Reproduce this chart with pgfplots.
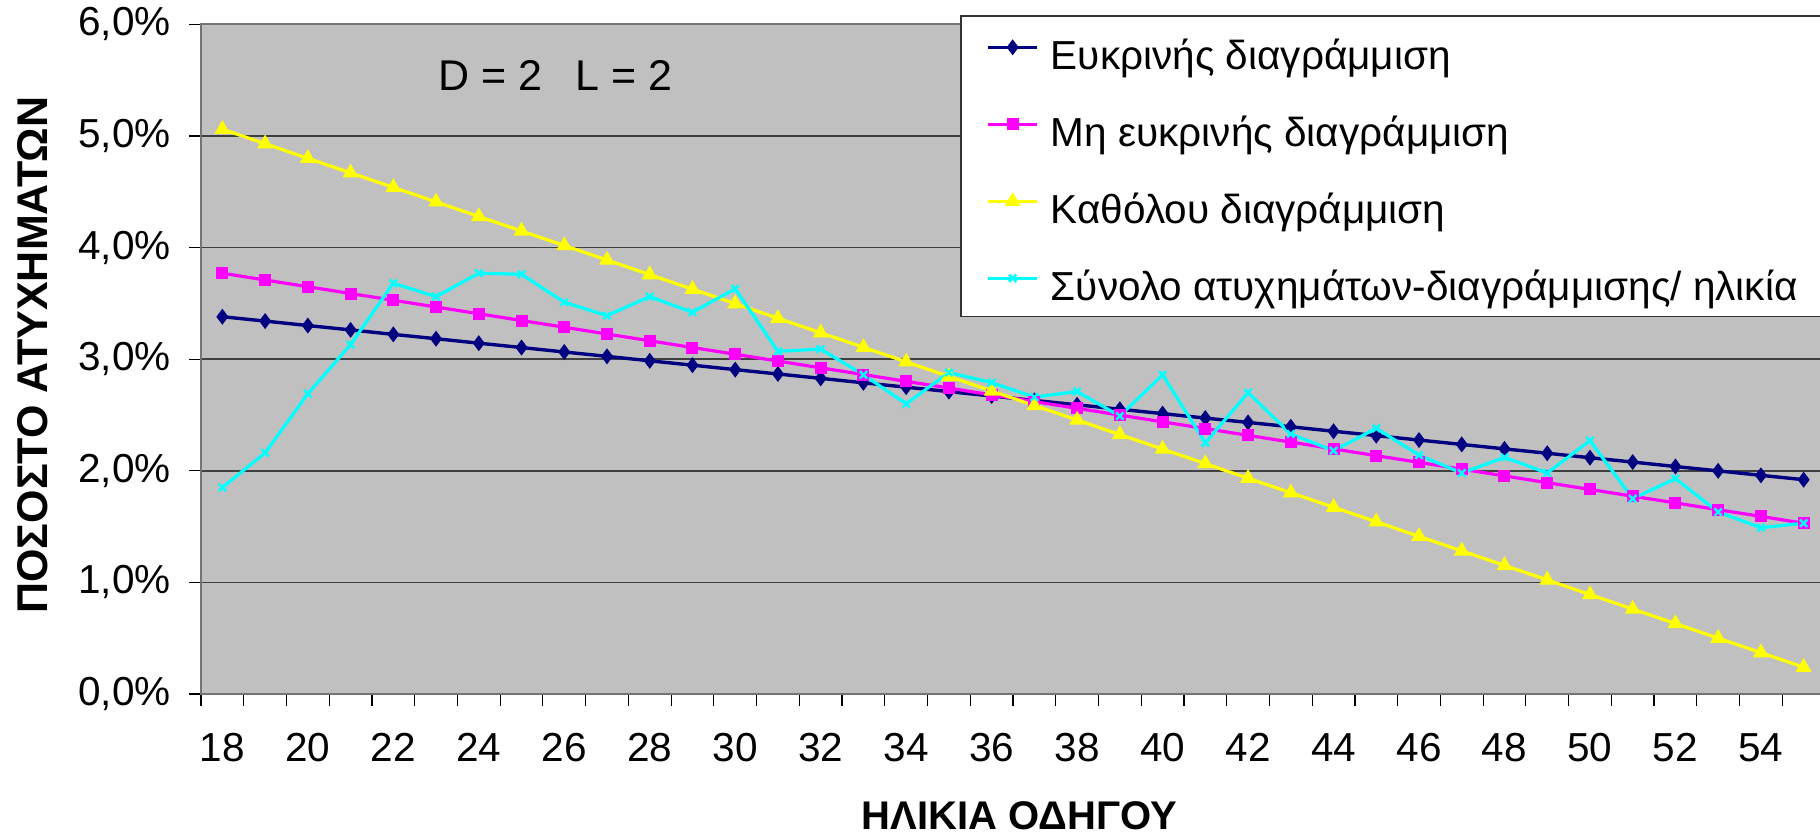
\documentclass[border=0pt]{standalone}
\usepackage{fontspec}
\setmainfont{Liberation Sans}
\usepackage{pgfplots}
\usepackage{pgfplotstable}
\pgfplotsset{compat=1.18}

\definecolor{plotgray}{HTML}{C0C0C0}
\definecolor{navyline}{HTML}{000080}
\definecolor{magline}{HTML}{FF00FF}
\definecolor{yelline}{HTML}{FFFF00}
\definecolor{cyanline}{HTML}{00FFFF}

% age, clear marking, unclear marking, no marking, total accidents (%)
\pgfplotstableread{
age clear unclear none total
18 3.380 3.770 5.060 1.85
19 3.341 3.709 4.930 2.16
20 3.301 3.649 4.799 2.69
21 3.262 3.588 4.669 3.13
22 3.222 3.528 4.539 3.68
23 3.183 3.467 4.409 3.56
24 3.143 3.407 4.278 3.77
25 3.104 3.346 4.148 3.76
26 3.064 3.286 4.018 3.51
27 3.025 3.225 3.888 3.39
28 2.985 3.165 3.757 3.56
29 2.946 3.104 3.627 3.42
30 2.906 3.044 3.497 3.63
31 2.867 2.983 3.366 3.07
32 2.828 2.922 3.236 3.09
33 2.788 2.862 3.106 2.86
34 2.749 2.801 2.976 2.60
35 2.709 2.741 2.845 2.88
36 2.670 2.680 2.715 2.79
37 2.630 2.620 2.585 2.66
38 2.591 2.559 2.455 2.71
39 2.551 2.499 2.324 2.49
40 2.512 2.438 2.194 2.86
41 2.472 2.378 2.064 2.25
42 2.433 2.317 1.933 2.70
43 2.394 2.257 1.803 2.33
44 2.354 2.196 1.673 2.18
45 2.315 2.135 1.543 2.38
46 2.275 2.075 1.412 2.14
47 2.236 2.014 1.282 1.98
48 2.196 1.954 1.152 2.12
49 2.157 1.893 1.022 1.98
50 2.117 1.833 0.891 2.27
51 2.078 1.772 0.761 1.75
52 2.038 1.712 0.631 1.93
53 1.999 1.651 0.500 1.63
54 1.959 1.591 0.370 1.49
55 1.920 1.530 0.240 1.53
}\accdata

\begin{document}
\begin{tikzpicture}
\begin{axis}[
    name=ax, at={(0,0)}, anchor=south west,
    scale only axis, width=812pt, height=334.85pt,
    xmin=17.5, xmax=55.5, ymin=0, ymax=6,
    clip=false,
    axis background/.style={fill=plotgray},
    axis line style={black!55, line width=1pt},
    ymajorgrids, major grid style={black!75, line width=0.8pt},
    ytick={0,...,6},
    yticklabels={{0,0\%},{1,0\%},{2,0\%},{3,0\%},{4,0\%},{5,0\%},{6,0\%}},
    xtick={18,20,...,54},
    xticklabels={18,20,22,24,26,28,30,32,34,36,38,40,42,44,46,48,50,52,54},
    minor xtick={17.5,18.5,...,55.5},
    tick pos=left, tick align=outside,
    major tick length=6pt, minor tick length=6pt,
    tick style={black, line width=0.6pt},
    major x tick style={draw=none},
    /pgf/number format/assume math mode=true,
    ticklabel style={font=\fontsize{20.25}{24}\selectfont},
    xticklabel style={anchor=base, yshift=-28pt},
    yticklabel style={anchor=east, inner sep=0pt, xshift=-9pt},
    xlabel={ΗΛΙΚΙΑ ΟΔΗΓΟΥ}, ylabel={ΠΟΣΟΣΤΟ ΑΤΥΧΗΜΑΤΩΝ},
    xlabel style={font=\bfseries\fontsize{20}{24}\selectfont,
        at={(axis description cs:0.5040,0)}, anchor=base, yshift=-68pt},
    ylabel style={font=\bfseries\fontsize{21.5}{25}\selectfont,
        at={(axis description cs:-0.10376,0.506)}, anchor=center},
    legend cell align=left,
    legend style={at={(rel axis cs:0.468,1.0124)}, anchor=north west,
        draw=none, fill=none, inner xsep=12.5pt, inner ysep=12pt,
        row sep=20pt, column sep=6pt,
        nodes={inner sep=0pt, text height=14.5pt, text depth=4pt,
               font=\fontsize{20.25}{24}\selectfont}},
    legend image code/.code={\draw[mark repeat=2,mark phase=2,#1]
        plot coordinates {(0pt,5.8pt) (12.25pt,5.8pt) (24.5pt,5.8pt)};},
]
\addplot[navyline, line width=1.7pt, mark=diamond*, mark size=2.6pt, mark options={solid}]
    table[x=age, y=clear] {\accdata};
\addlegendentry{Ευκρινής διαγράμμιση}
\addplot[magline, line width=1.6pt, mark=square*, mark size=2.2pt, mark options={solid}]
    table[x=age, y=unclear] {\accdata};
\addlegendentry{Μη ευκρινής διαγράμμιση}
\addplot[yelline, line width=1.6pt, mark=triangle*, mark size=3pt, mark options={solid}]
    table[x=age, y=none] {\accdata};
\addlegendentry{Καθόλου διαγράμμιση}
\addplot[cyanline, line width=1.6pt, mark=x, mark size=2.6pt, mark options={solid, line width=1.2pt}]
    table[x=age, y=total] {\accdata};
\addlegendentry{Σύνολο ατυχημάτων-διαγράμμισης/ ηλικία}

\draw[black!80, line width=0.8pt, fill=white]
    (rel axis cs:0.468,1.0124) rectangle (rel axis cs:1.02,0.5634);
\node[font=\fontsize{21.5}{25}\selectfont] at (axis cs:25.8,5.54) {D = 2 \hspace{0.5em}L = 2};
\end{axis}
\pgfresetboundingbox
\path ([shift={(-100.5pt,-72pt)}]ax.south west) rectangle ([shift={(-2.5pt,12.15pt)}]ax.north east);
\end{tikzpicture}
\end{document}
